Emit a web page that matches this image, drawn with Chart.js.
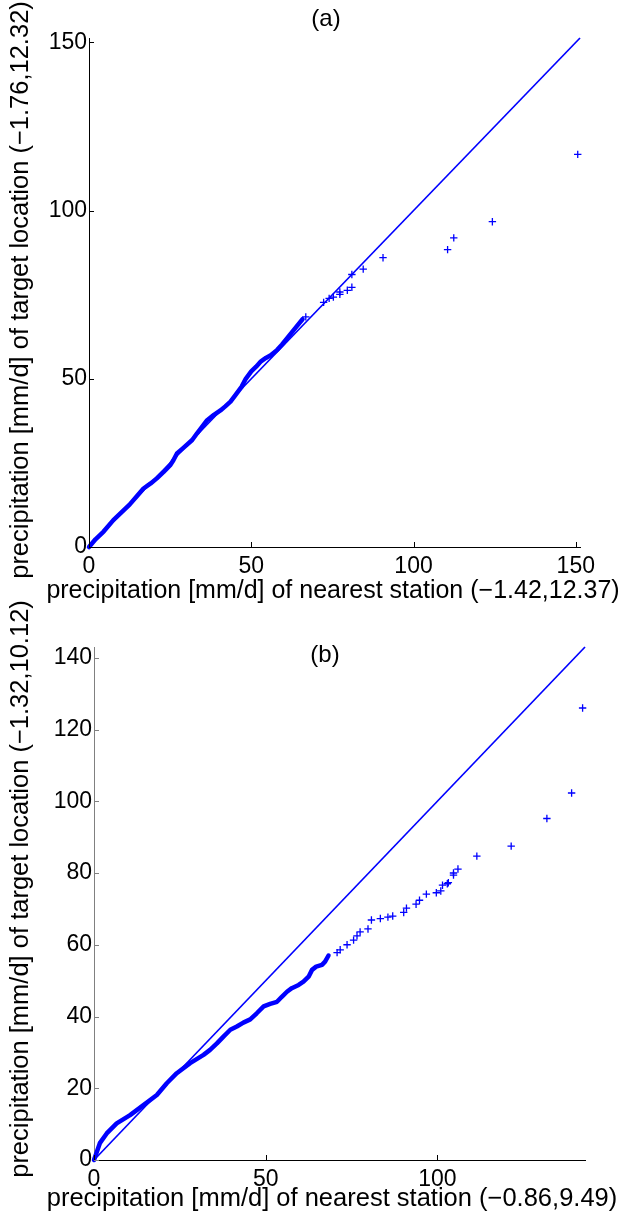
<!DOCTYPE html>
<html><head><meta charset="utf-8">
<script src="https://cdn.jsdelivr.net/npm/chart.js@4"></script>
<style>
body{margin:0;background:#fff;}
#wa{position:absolute;left:0;top:0;width:622px;height:606px;}
#wb{position:absolute;left:0;top:580px;width:622px;height:633px;}
</style>
</head><body>
<div id="wa"><canvas id="ca"></canvas></div>
<div id="wb"><canvas id="cb"></canvas></div>
<script>
// ---------- data ----------
const titleA = '(a)';
const titleB = '(b)';
const xTitleA = 'precipitation [mm/d] of nearest station (\u22121.42,12.37)';
const yTitleA = 'precipitation [mm/d] of target location (\u22121.76,12.32)';
const xTitleB = 'precipitation [mm/d] of nearest station (\u22120.86,9.49)';
const yTitleB = 'precipitation [mm/d] of target location (\u22121.32,10.12)';

const axisMaxA = 151.3;
const axisMaxB = 143;
const xTicksA = [0, 50, 100, 150];
const yTicksA = [0, 50, 100, 150];
const xTicksB = [0, 50, 100];
const yTicksB = [0, 20, 40, 60, 80, 100, 120, 140];

// (a) dense quantile band (nearest station x, target y)
const denseAx = [0, 2, 4.5, 7.5, 10, 12.5, 15, 16.8, 19, 20.9, 23, 25.1, 26, 27.1, 29, 31.8, 33.3, 35, 36.4, 38.5, 40.5, 42, 43.6, 45, 47, 48.3, 50, 51.5, 53, 54.5, 56, 58, 59.5, 61, 62.5, 64, 65.8];
const denseAy = [0, 2.3, 4.6, 8.0, 10.3, 12.6, 15.4, 17.4, 18.9, 20.4, 22.3, 24.4, 25.8, 27.8, 29.4, 31.8, 33.8, 35.9, 37.7, 39.3, 40.6, 41.8, 43.2, 45.0, 47.6, 50.0, 52.2, 53.6, 55.2, 56.2, 57.0, 58.6, 60.2, 62.0, 63.8, 65.6, 67.7];
// (a) sparse upper quantiles
const tailAx = [66.8, 72.3, 74.0, 75.3, 77.3, 77.3, 79.6, 81.0, 81.0, 84.5, 90.6, 110.5, 112.4, 124.3, 150.6];
const tailAy = [68.4, 72.7, 73.9, 74.3, 75.1, 75.8, 76.3, 77.2, 81.0, 82.6, 86.0, 88.4, 91.9, 96.7, 116.7];

// (b) dense quantile band
const denseBx = [0, 1.7, 3.7, 6.6, 10.5, 14.4, 18.3, 21.2, 24.1, 28.0, 31.9, 33.8, 35.8, 37.7, 39.7, 41.6, 43.5, 45.5, 47.4, 49.4, 51.3, 53.3, 54.7, 56.2, 57.6, 59.6, 61.0, 62.5, 63.5, 64.7, 66.4, 67.3, 68.3];
const denseBy = [0, 4.7, 7.4, 10.2, 12.5, 15.3, 18.1, 21.4, 24.2, 27.0, 29.3, 30.7, 32.5, 34.4, 36.3, 37.2, 38.3, 39.2, 40.9, 42.8, 43.5, 44.1, 45.5, 46.9, 47.9, 48.8, 49.7, 51.1, 53.0, 53.9, 54.4, 55.3, 57.0];
// (b) sparse upper quantiles
const tailBx = [70.8, 71.7, 73.7, 75.6, 76.6, 77.5, 79.8, 80.8, 83.4, 85.6, 87.0, 90.2, 91.0, 93.8, 94.8, 96.8, 99.7, 101.0, 101.5, 102.9, 103.2, 104.7, 104.7, 106.0, 111.5, 121.5, 131.9, 139.1, 142.3];
const tailBy = [57.8, 58.6, 60.0, 61.3, 62.5, 63.6, 64.4, 66.9, 67.3, 67.7, 68.0, 69.0, 70.2, 71.3, 72.4, 74.1, 74.5, 75.0, 76.6, 77.0, 77.3, 79.4, 80.0, 81.1, 84.7, 87.5, 95.2, 102.3, 126.0];

// ---------- helpers ----------
const BLUE = '#0000ff';
const FONT = '"Liberation Sans", Arial, sans-serif';
const pts = (xs, ys) => xs.map((x, i) => ({x: x, y: ys[i]}));

const decor = {
  id: 'decor',
  afterDraw(chart, args, o) {
    const ctx = chart.ctx;
    const ca = chart.chartArea;
    ctx.save();
    ctx.lineWidth = 1;
    const xs = chart.scales.x, ys = chart.scales.y;
    ctx.strokeStyle = '#000';
    xs.ticks.forEach(t => {
      const px = Math.round(xs.getPixelForValue(t.value)) + 0.5;
      ctx.beginPath(); ctx.moveTo(px, ca.bottom); ctx.lineTo(px, ca.bottom - 5); ctx.stroke();
    });
    ctx.strokeStyle = o.yColor;
    ys.ticks.forEach(t => {
      const py = Math.round(ys.getPixelForValue(t.value)) + 0.5;
      ctx.beginPath(); ctx.moveTo(ca.left, py); ctx.lineTo(ca.left + 5, py); ctx.stroke();
    });
    ctx.fillStyle = '#000';
    ctx.textAlign = 'center';
    ctx.textBaseline = 'middle';
    ctx.font = '24px ' + FONT;
    ctx.fillText(o.title, o.tx, o.ty);
    ctx.font = o.xFont + 'px ' + FONT;
    ctx.fillText(o.xTitle, o.xtx, o.xty);
    ctx.font = '25.5px ' + FONT;
    ctx.translate(o.ytx, o.yty);
    ctx.rotate(-Math.PI / 2);
    ctx.fillText(o.yTitle, 0, 0);
    ctx.restore();
  }
};

function makeChart(id, cfg) {
  const fixY = s => { s.width = cfg.yWidth; s.paddingTop = 0; s.paddingBottom = 0; };
  const fixX = s => { s.height = cfg.xHeight; s.paddingLeft = 0; s.paddingRight = 0; };
  return new Chart(document.getElementById(id), {
    type: 'scatter',
    data: {
      datasets: [
        {data: [{x: 0, y: 0}, {x: cfg.max, y: cfg.max}], showLine: true, borderColor: BLUE, borderWidth: 1.7, pointRadius: 0, clip: false},
        {data: pts(cfg.dx, cfg.dy), showLine: true, borderColor: BLUE, borderWidth: 4.5, pointRadius: 0, borderJoinStyle: 'round', borderCapStyle: 'round', clip: false},
        {data: pts(cfg.tx, cfg.ty), showLine: false, pointStyle: 'cross', pointRadius: 3.7, borderWidth: 1.3, borderColor: BLUE, backgroundColor: BLUE, clip: false}
      ]
    },
    options: {
      responsive: true, maintainAspectRatio: false, animation: false,
      layout: {padding: {left: 0, right: cfg.padRight, top: cfg.padTop, bottom: 0}},
      plugins: {legend: {display: false}, tooltip: {enabled: false},
        decor: {yColor: cfg.yColor, title: cfg.title, tx: cfg.titleX, ty: cfg.titleY, xFont: cfg.xFont,
          xTitle: cfg.xTitle, xtx: cfg.xtx, xty: cfg.xty, yTitle: cfg.yTitle, ytx: cfg.ytx, yty: cfg.yty}},
      scales: {
        x: {type: 'linear', min: 0, max: cfg.max,
          afterFit: fixX,
          afterBuildTicks: s => { s.ticks = cfg.xTicks.map(v => ({value: v})); },
          grid: {display: true, drawOnChartArea: false, drawTicks: false},
          border: {display: true, color: '#000', width: 1},
          ticks: {color: '#000', padding: 6, maxRotation: 0, autoSkip: false, font: {family: FONT, size: 23}},
          title: {display: false}
        },
        y: {type: 'linear', min: 0, max: cfg.max,
          afterFit: fixY,
          afterBuildTicks: s => { s.ticks = cfg.yTicks.map(v => ({value: v})); },
          grid: {display: true, drawOnChartArea: false, drawTicks: false},
          border: {display: true, color: cfg.yColor, width: 1},
          ticks: {color: '#000', padding: 2, autoSkip: false, font: {family: FONT, size: 23}},
          title: {display: false}
        }
      }
    },
    plugins: [decor]
  });
}

makeChart('ca', {max: axisMaxA, dx: denseAx, dy: denseAy, tx: tailAx, ty: tailAy,
  xTicks: xTicksA, yTicks: yTicksA, xTitle: xTitleA, yTitle: yTitleA, title: titleA,
  yWidth: 89, xHeight: 59, padRight: 42, padTop: 38, yColor: '#000', xFont: 25,
  titleX: 326, titleY: 19, xtx: 333, xty: 591, ytx: 21, yty: 290});
makeChart('cb', {max: axisMaxB, dx: denseBx, dy: denseBy, tx: tailBx, ty: tailBy,
  xTicks: xTicksB, yTicks: yTicksB, xTitle: xTitleB, yTitle: yTitleB, title: titleB,
  yWidth: 94, xHeight: 53, padRight: 37, padTop: 67, yColor: '#808080', xFont: 25.5,
  titleX: 325, titleY: 75, xtx: 332, xty: 619, ytx: 21, yty: 309});
</script>
</body></html>
